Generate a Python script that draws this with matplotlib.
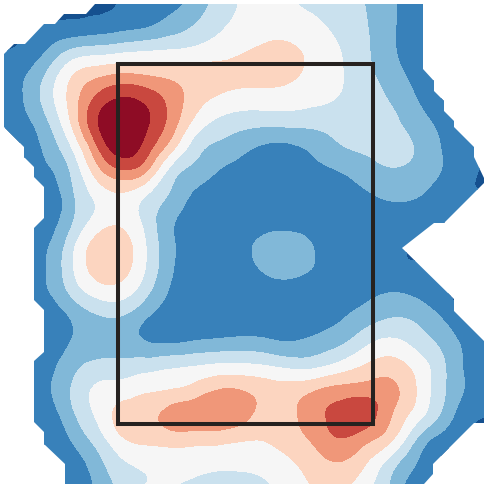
import numpy as np
import matplotlib
matplotlib.use('Agg')
import matplotlib.pyplot as plt
import matplotlib.tri as mtri
from matplotlib.patches import Polygon, Rectangle

# grid positions of the field, in picture units
x_grid = np.arange(21) * 24.4
y_grid = np.arange(21) * 24.4

# field values, one list per row from the top
row_00 = [-2, -1.5, -0.5, 0.05, 0, 0.1, 0.5, 0.75, 1.3, 2.4, 3.1, 3.4, 3.05, 2.6, 2.3, 1.95, 1.2, 0.4, -0.5, -1.5, -2]
row_01 = [-1.5, -0.1, 0.1, 0.15, 0.3, 0.55, 0.8, 1.35, 2, 2.8, 3.25, 3.5, 3.45, 3.15, 2.6, 2.05, 1.2, 0.4, -0.5, -1.5, -2]
row_02 = [0, 0.2, 1, 2, 2.3, 2.55, 2.75, 2.92, 3.15, 3.5, 3.85, 4.2, 4.1, 3.6, 2.95, 2.15, 1.2, 0.4, -0.5, -1.5, -2]
row_03 = [0.1, 0.85, 2.2, 3.9, 4.6, 4.95, 4.8, 4.6, 4.4, 4.3, 4.3, 4.35, 4.15, 3.65, 3.05, 2.25, 1.5, 0.6, -0.3, -1.3, -2]
row_04 = [0.1, 1.05, 2.6, 4.5, 6.2, 7.0, 6.6, 5.6, 4.5, 3.85, 3.6, 3.6, 3.5, 3.25, 2.9, 2.4, 1.9, 1.05, 0.1, -1, -2]
row_05 = [0.1, 0.7, 2.0, 4.3, 6.95, 7.8, 7.15, 5.6, 3.7, 2.75, 2.4, 2.3, 2.35, 2.35, 2.4, 2.4, 2.25, 1.5, 0.75, -0.3, -1.5]
row_06 = [-1, 0.15, 1.4, 3.2, 6.0, 7.6, 6.55, 4.5, 2.5, 1.75, 1.25, 0.85, 0.9, 1.35, 1.95, 2.2, 2.4, 1.95, 1.05, 0.3, -0.2]
row_07 = [-2, 0, 0.85, 2.3, 4.6, 5.85, 5.05, 2.65, 1.65, 0.95, 0.6, 0.45, 0.5, 0.75, 1.05, 1.5, 1.9, 1.7, 1.05, 0.3, -0.15]
row_08 = [-3, 0, 0.4, 1.9, 3.3, 3.85, 3.0, 1.85, 0.8, 0.35, 0.25, 0.2, 0.2, 0.3, 0.55, 0.85, 1.2, 1.1, 0.6, 0.1, 0.05]
row_09 = [-3, -0.3, 0.5, 1.95, 3.35, 3.7, 2.6, 1.2, 0.5, 0.25, 0.3, 0.5, 0.55, 0.5, 0.3, 0.3, 0.4, 0.4, 0.2, -0.3, -1]
row_10 = [-3, -0.1, 0.95, 2.75, 4.4, 4.45, 2.95, 1.2, 0.4, 0.2, 0.7, 1.35, 1.4, 0.85, 0.35, 0.2, 0.15, 0, -0.5, -1.5, -2]
row_11 = [-3, -0.1, 1.1, 2.95, 4.45, 4.4, 2.9, 1.15, 0.3, 0.25, 0.6, 1.25, 1.4, 0.85, 0.4, 0.25, 0.2, 0.1, -0.1, -1, -2]
row_12 = [-3, -0.1, 0.95, 2.3, 3.35, 3.4, 2.2, 0.85, 0.35, 0.3, 0.35, 0.4, 0.4, 0.4, 0.45, 0.7, 1.0, 0.8, 0.25, -0.5, -1.5]
row_13 = [-3, -0.3, 0.4, 1.15, 1.85, 1.9, 1.05, 0.5, 0.3, 0.3, 0.3, 0.3, 0.35, 0.45, 0.9, 1.5, 1.95, 1.8, 1.05, 0.05, -1]
row_14 = [-3, -0.2, 0.3, 1.1, 1.4, 1.35, 1.0, 0.85, 1.05, 1.2, 1.3, 1.15, 1.0, 1.3, 1.8, 2.7, 3.2, 2.65, 1.8, 0.8, 0.1]
row_15 = [-3, -0.1, 0.75, 1.7, 2.3, 2.4, 2.55, 2.8, 2.98, 3.2, 3.2, 3.0, 2.7, 2.8, 3.4, 4.1, 4.45, 3.7, 2.4, 0.95, 0.15]
row_16 = [-3, -0.1, 0.9, 2.15, 3.2, 3.5, 3.85, 4.05, 4.45, 5.05, 4.95, 4.5, 4.5, 5.0, 5.4, 5.55, 5.3, 4.1, 2.4, 1.0, 0.15]
row_17 = [-3, -0.1, 0.55, 1.85, 3.2, 4.35, 4.7, 5.35, 5.6, 5.75, 5.3, 4.55, 4.85, 5.7, 6.4, 6.45, 5.1, 3.6, 2.0, 0.5, 0.1]
row_18 = [-3, -0.4, 0.1, 1.15, 2.45, 3.85, 4.3, 4.45, 4.4, 4.35, 4.1, 4.1, 4.6, 5.3, 5.95, 5.3, 4.2, 2.1, 0.7, 0.05, -1.5]
row_19 = [-3, -1, 0, 0.5, 1.6, 2.8, 3.2, 3.45, 3.35, 3.2, 3.2, 3.4, 3.9, 4.6, 4.9, 4.0, 2.5, 1.05, 0.05, -1.2, -2]
row_20 = [-3, -1, -0.2, 0.2, 1.2, 2.3, 3.05, 3.02, 2.7, 2.55, 2.6, 2.9, 3.5, 4.1, 4.15, 3.2, 1.9, 0.5, 0.05, -2, -3]

field = np.array([row_00, row_01, row_02, row_03, row_04, row_05, row_06, row_07, row_08, row_09, row_10,
                  row_11, row_12, row_13, row_14, row_15, row_16, row_17, row_18, row_19, row_20])

# blocky outline of the area that has data
outline_x = [95, 86, 64, 55, 44, 25, 14, 4, 4, 24, 24, 34, 34, 44, 44, 34, 34, 44, 44, 34, 34, 44, 44, 65, 65,
             424, 433, 433, 474, 484, 484, 454, 454, 402, 434, 444, 484, 484, 474, 474, 454, 454, 444, 444, 434, 434, 423, 423]
outline_y = [4, 14, 14, 24, 24, 44, 44, 54, 127, 147, 157, 167, 177, 187, 218, 228, 300, 310, 352, 361, 422, 432, 444, 464, 484,
             484, 474, 464, 423, 423, 341, 311, 299, 248, 223, 223, 183, 178, 157, 147, 127, 121, 111, 101, 91, 81, 69, 4]

levels = [-10, 0, 1, 2, 3, 4, 5, 6, 7, 12]
colors = ['#15508f', '#3881ba', '#81b8d8', '#cae1ee', '#f6f6f6', '#fcd5c0', '#f09779', '#c9483f', '#8e0c25']

# region of interest box
box_x = 117.5
box_y = 64
box_w = 255
box_h = 359.5

fig = plt.figure(figsize=(4.88, 4.88), dpi=100)
ax = fig.add_axes([0, 0, 1, 1])

# let matplotlib's refiner round off the contours of the coarse grid
xx, yy = np.meshgrid(x_grid, y_grid)
triang = mtri.Triangulation(xx.ravel(), yy.ravel())
refiner = mtri.UniformTriRefiner(triang)
fine_tri, fine_field = refiner.refine_field(field.ravel(), subdiv=3)
cs = ax.tricontourf(fine_tri, fine_field, levels=levels, colors=colors, antialiased=False)

clip = Polygon(np.column_stack([outline_x, outline_y]), closed=True, transform=ax.transData, fill=False, edgecolor='none')
ax.add_patch(clip)
cs.set_clip_path(clip)
ax.add_patch(Rectangle((box_x, box_y), box_w, box_h, fill=False, edgecolor='#262220', linewidth=2.9, joinstyle='miter'))
ax.set_xlim(0, 488)
ax.set_ylim(488, 0)
ax.axis('off')
fig.savefig('out.png', dpi=100)
